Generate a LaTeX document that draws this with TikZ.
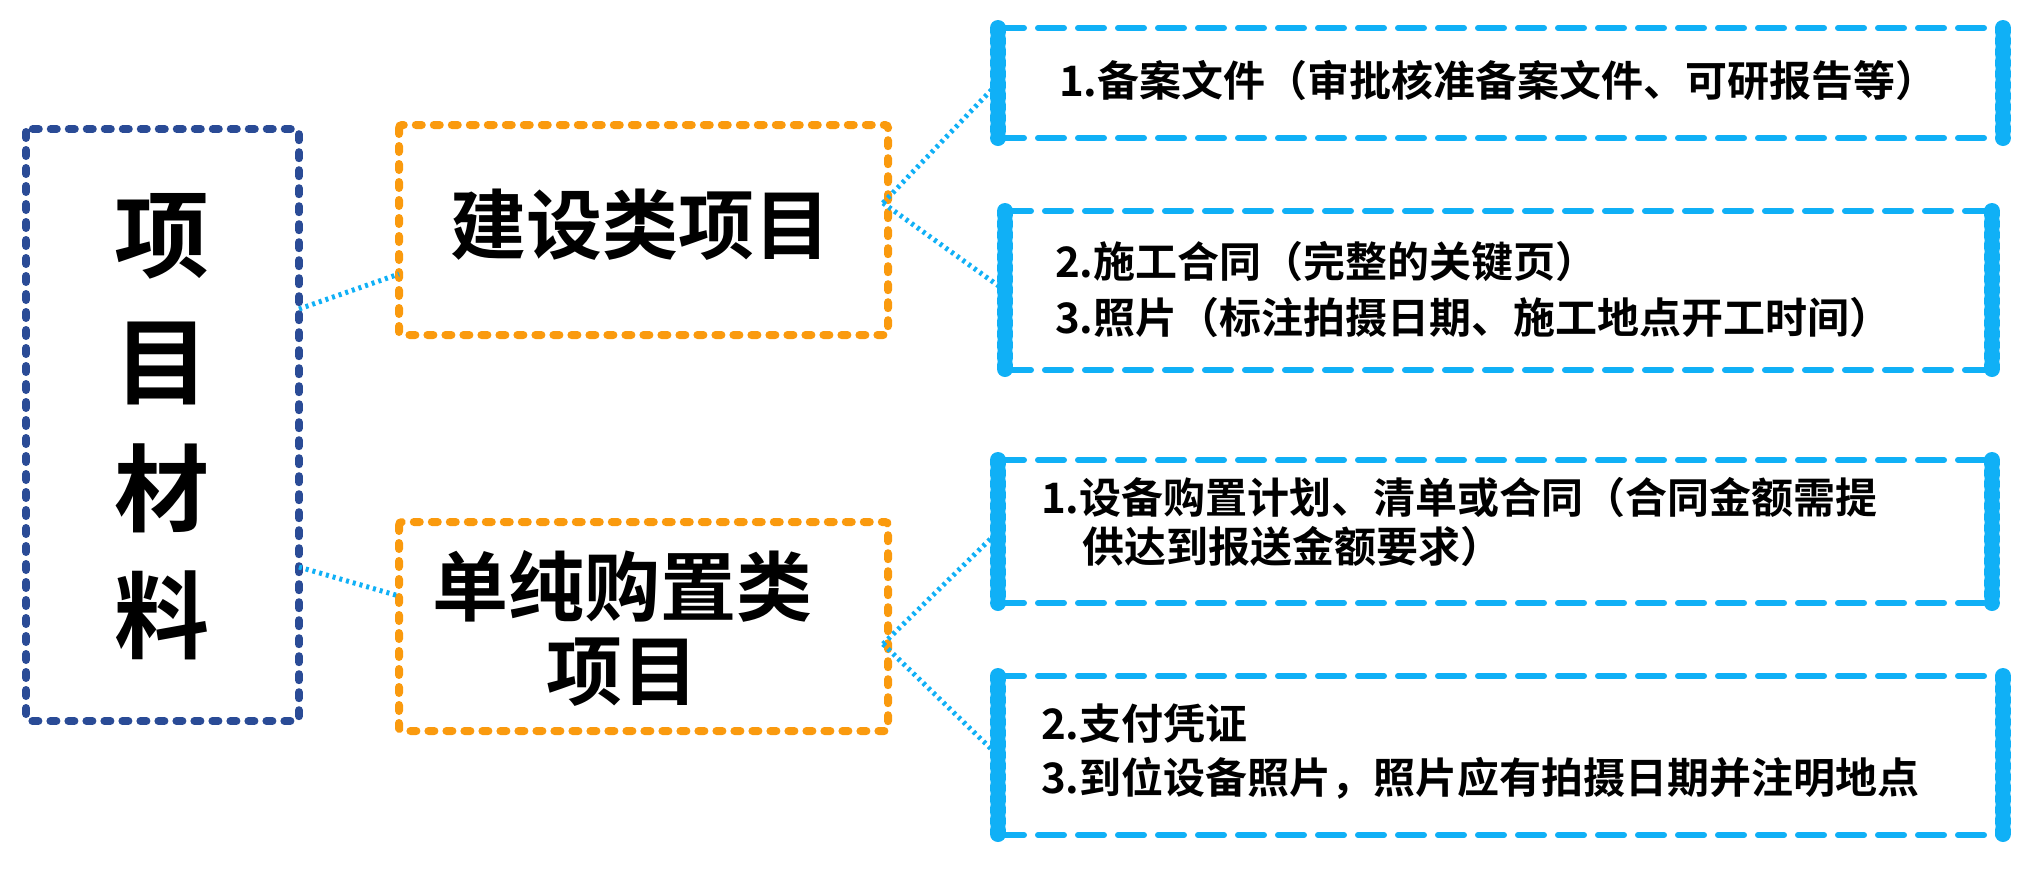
\documentclass[tikz,border=0pt]{standalone}
\usepackage{fontspec}
\setmainfont{Noto Sans CJK SC}[BoldFont={* Bold}]
\definecolor{org}{HTML}{FA9A0E}
\definecolor{dblue}{HTML}{2A4B96}
\definecolor{lblue}{HTML}{10B0F6}
\tikzset{
 obox/.style={draw=org,line width=8pt,dash pattern=on 6pt off 12pt,line cap=round,rounded corners=3pt},
 dbox/.style={draw=dblue,line width=8pt,dash pattern=on 6pt off 12pt,line cap=round,rounded corners=3pt},
 hl/.style={draw=lblue,line width=6pt,dash pattern=on 26pt off 14pt,line cap=round},
 vl/.style={draw=lblue,line width=16pt,dash pattern=on 4pt off 7pt,line cap=round},
 conn/.style={draw=lblue,line width=5pt,dash pattern=on 3pt off 4pt},
 big/.style={font=\fontsize{95}{127}\selectfont\bfseries,align=center},
 mid/.style={font=\fontsize{76}{84}\selectfont\bfseries,align=center},
 sm/.style={font=\fontsize{42}{56}\selectfont\bfseries,anchor=west,inner sep=0pt},
}
\newcommand{\lbbox}[5]{%
 \coordinate (#1) at (#2,{(#4+#5)/2});
 \draw[hl] (#2,#4) -- (#3,#4);
 \draw[hl] (#2,#5) -- (#3,#5);
 \draw[vl] (#2,#4) -- (#2,#5);
 \draw[vl] (#3,#4) -- (#3,#5);}
\begin{document}
\begin{tikzpicture}[x=1pt,y=-1pt]
\useasboundingbox (0,0) rectangle (2019,871);
\draw[dbox] (26,129) rectangle (299,721);
\node[big] (L) at (162,427) {项\\目\\材\\料};
\draw[obox] (399,125) rectangle (888,335);
\draw[obox] (399,522) rectangle (888,731);
\node[mid] (A) at (640,225) {建设类项目};
\node[mid] (B) at (622,628) {单纯购置类\\项目};
\coordinate (L1) at (299,309); \coordinate (A0) at (399,274);
\coordinate (L2) at (299,567); \coordinate (B0) at (399,596);
\coordinate (A1) at (883,203); \coordinate (B1) at (883,644);
\lbbox{R1}{998}{2003}{28}{138}
\lbbox{R2}{1005}{1992}{211}{370}
\lbbox{R3}{998}{1992}{460}{603}
\lbbox{R4}{998}{2003}{676}{835}
\draw[conn] (L1) -- (A0);
\draw[conn] (L2) -- (B0);
\draw[conn] (A1) -- (R1);
\draw[conn] (A1) -- (R2);
\draw[conn] (B1) -- (R3);
\draw[conn] (B1) -- (R4);
\node[sm] (t1) at (1059,80) {1.备案文件（审批核准备案文件、可研报告等）};
\node[sm] (t2) at (1055,262) {2.施工合同（完整的关键页）};
\node[sm] (t3) at (1055,318) {3.照片（标注拍摄日期、施工地点开工时间）};
\node[sm] (t4) at (1041,498) {1.设备购置计划、清单或合同（合同金额需提};
\node[sm] (t5) at (1082,547) {供达到报送金额要求）};
\node[sm] (t6) at (1041,724) {2.支付凭证};
\node[sm] (t7) at (1041,778) {3.到位设备照片，照片应有拍摄日期并注明地点};
\end{tikzpicture}
\end{document}
